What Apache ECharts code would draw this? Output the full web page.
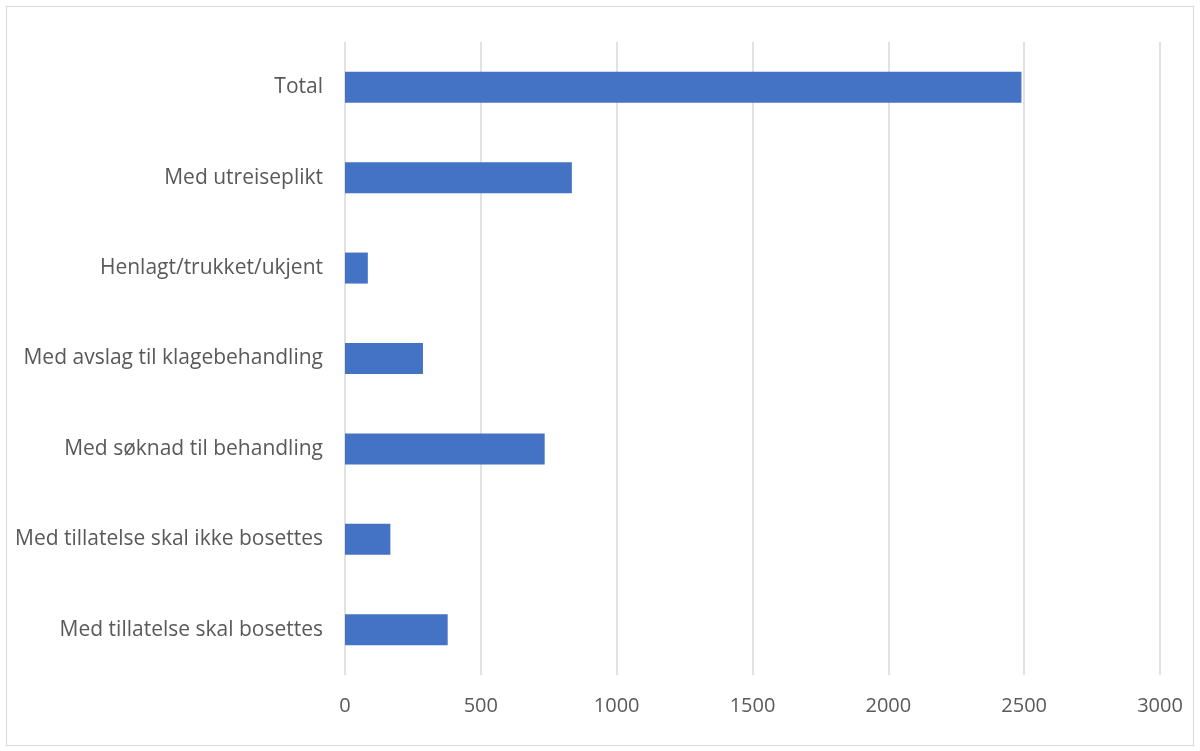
<!DOCTYPE html>
<html><head><meta charset="utf-8">
<script src="https://cdn.jsdelivr.net/npm/echarts@6/dist/echarts.min.js"></script>
<style>
html,body{margin:0;padding:0;background:#fff;}
#frame{position:absolute;left:6px;top:6px;width:1188px;height:740px;border:1px solid #d9d9d9;box-sizing:border-box;}
#c{position:absolute;left:0;top:0;width:1200px;height:751px;}
</style></head>
<body>
<div id="frame"></div>
<div id="c"></div>
<script>
const categories = ["Total","Med utreiseplikt","Henlagt/trukket/ukjent","Med avslag til klagebehandling","Med søknad til behandling","Med tillatelse skal ikke bosettes","Med tillatelse skal bosettes"];
const values = [2490, 835, 84, 287, 735, 167, 378];
const tickMin = 0, tickMax = 3000, tickStep = 500;

const chart = echarts.init(document.getElementById('c'));
chart.setOption({
  animation:false,
  grid:{left:345,right:40,top:42,bottom:76,containLabel:false},
  xAxis:{type:'value',min:tickMin,max:tickMax,interval:tickStep,
    axisLine:{show:false},axisTick:{show:false},
    splitLine:{lineStyle:{color:'#d9d9d9',width:1.5}},
    axisLabel:{color:'#595959',fontSize:20,fontFamily:'Open Sans',margin:21,formatter:v=>String(v)}},
  yAxis:{type:'category',data:categories,inverse:true,
    axisLine:{show:false},axisTick:{show:false},
    axisLabel:{color:'#595959',fontSize:21,fontFamily:'Open Sans',margin:22}},
  series:[{type:'bar',data:values,barWidth:31,itemStyle:{color:'#4472c4'}}]
});
</script>
</body></html>
